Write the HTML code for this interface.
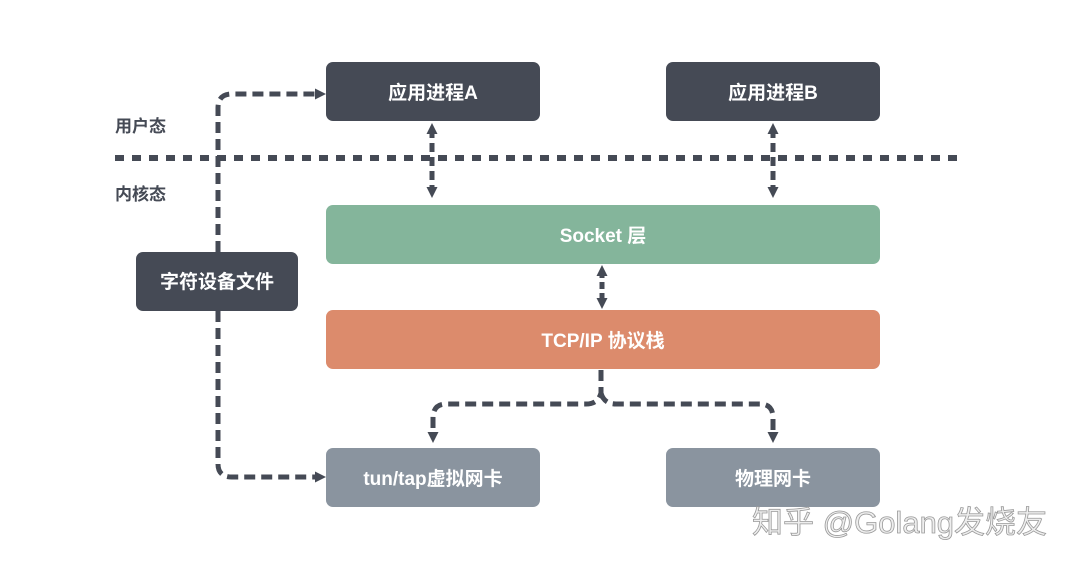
<!DOCTYPE html>
<html><head><meta charset="utf-8"><style>
html,body{margin:0;padding:0;background:#fff;width:1080px;height:571px;overflow:hidden}
svg text{font-family:"Liberation Sans","Noto Sans CJK SC",sans-serif;font-weight:bold}
</style></head><body>
<svg width="1080" height="571" viewBox="0 0 1080 571" xmlns="http://www.w3.org/2000/svg">
<defs>
<marker id="ah" markerWidth="11" markerHeight="11" refX="5" refY="5.5" orient="auto-start-reverse" markerUnits="userSpaceOnUse">
<path d="M0,0 L11,5.5 L0,11 z" fill="#454a55"/></marker>
</defs>
<g fill="none" stroke="#454a55" stroke-width="5">
<line x1="115" y1="158" x2="962" y2="158" stroke-width="6" stroke-dasharray="9 8"/>
<path d="M218 252 V108 Q218 94 232 94 H320" stroke-dasharray="11 6" marker-end="url(#ah)"/>
<path d="M218 311 V464 Q218 477 232 477 H320" stroke-dasharray="11 6" marker-end="url(#ah)"/>
<path d="M432 129 V192" stroke-dasharray="9 5" marker-end="url(#ah)" marker-start="url(#ah)"/>
<path d="M773 129 V192" stroke-dasharray="9 5" marker-end="url(#ah)" marker-start="url(#ah)"/>
<path d="M602 271 V303" stroke-dasharray="7 4" marker-end="url(#ah)" marker-start="url(#ah)"/>
<path d="M601 370 V393 Q598 404 586 404 H446 Q433 404 433 418 V437" stroke-dasharray="11 6" marker-end="url(#ah)"/>
<path d="M601 393 Q604 404 616 404 H760 Q773 404 773 418 V437" stroke-dasharray="11 6" marker-end="url(#ah)"/>
</g>
<rect x="326" y="62" width="214" height="59" rx="7" fill="#454a55"/>
<rect x="666" y="62" width="214" height="59" rx="7" fill="#454a55"/>
<rect x="136" y="252" width="162" height="59" rx="7" fill="#454a55"/>
<rect x="326" y="205" width="554" height="59" rx="7" fill="#84b59b"/>
<rect x="326" y="310" width="554" height="59" rx="7" fill="#dc8b6c"/>
<rect x="326" y="448" width="214" height="59" rx="7" fill="#8a949f"/>
<rect x="666" y="448" width="214" height="59" rx="7" fill="#8a949f"/>
<g fill="#fff" font-size="19" text-anchor="middle">
<text x="433" y="99">应用进程A</text>
<text x="773" y="99">应用进程B</text>
<text x="217" y="288">字符设备文件</text>
<text x="603" y="242">Socket 层</text>
<text x="603" y="347">TCP/IP 协议栈</text>
<text x="433" y="485">tun/tap虚拟网卡</text>
<text x="773" y="485">物理网卡</text>
</g>
<g fill="#454a55" font-size="17">
<text x="115" y="132">用户态</text>
<text x="115" y="200">内核态</text>
</g>
<text x="752" y="533" font-size="31" fill="#eeeeee" stroke="#9a9a9a" stroke-width="0.8" style="font-weight:normal">知乎 @Golang发烧友</text>
</svg>
</body></html>
